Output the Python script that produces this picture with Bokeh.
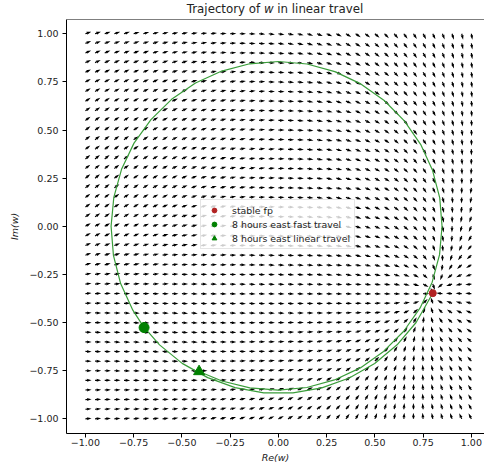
import numpy as np
from bokeh.plotting import figure
from bokeh.models import Div, FixedTicker, Legend, LegendItem, Span
from bokeh.layouts import column
from bokeh.embed import file_html
from bokeh.resources import INLINE

# ---- data -------------------------------------------------------------
grid_x = np.linspace(-1.0, 1.0, 41)          # quiver grid (Re w)
grid_y = np.linspace(-1.0, 1.0, 41)          # quiver grid (Im w)

# vector-field model dw/dt = c + a1 w + a2 w^2 - nu |w|^2 w  (parameters fitted to the arrows)
forcing_angle = -0.0262
lin_coef = (0.2400, -0.5947)
quad_coef = (-0.8267, -0.1510)
cubic_damp = 0.7758

# stable fixed point and the two travel markers
fp_x, fp_y = [0.80], [-0.347]
fast_x, fast_y = [-0.696], [-0.526]
lin_x, lin_y = [-0.411], [-0.754]

# trajectory of w (polar angle in degrees, radius)
traj_angle = [-118.6, -110, -100, -90, -80, -70, -60, -50, -40, -30, -20, -10, 0, 10, 20, 30, 40, 50, 60,
              70, 80, 90, 100, 110, 120, 130, 140, 150, 160, 170, 180, 190, 200, 210, 216.6, 225, 235,
              245, 255, 265, 275, 285, 295, 305, 315, 325, 336.5]
traj_radius = [0.859, 0.855, 0.852, 0.851, 0.850, 0.849, 0.849, 0.848, 0.848, 0.848, 0.848, 0.848, 0.848,
               0.849, 0.850, 0.851, 0.852, 0.853, 0.854, 0.855, 0.856, 0.856, 0.857, 0.858, 0.859, 0.861,
               0.862, 0.864, 0.865, 0.866, 0.867, 0.868, 0.870, 0.871, 0.872, 0.871, 0.869, 0.867, 0.867,
               0.868, 0.868, 0.869, 0.869, 0.870, 0.870, 0.871, 0.872]

x_ticks = [-1.0, -0.75, -0.5, -0.25, 0.0, 0.25, 0.5, 0.75, 1.0]
y_ticks = [-1.0, -0.75, -0.5, -0.25, 0.0, 0.25, 0.5, 0.75, 1.0]
tick_labels = ["\u22121.00", "\u22120.75", "\u22120.50", "\u22120.25", "0.00", "0.25", "0.50", "0.75", "1.00"]

# ---- figure --------------------------------------------------------------
X0, X1 = -1.098, 1.068
Y0, Y1 = -1.076, 1.074
FW, FH = 418, 414
FONT = "DejaVu Sans"
TXT = "#222222"

p = figure(frame_width=FW, frame_height=FH, x_range=(X0, X1), y_range=(Y0, Y1),
           output_backend="svg", toolbar_location=None,
           min_border_left=66, min_border_right=0, min_border_top=1, min_border_bottom=4)
p.grid.visible = False
p.outline_line_color = None
p.background_fill_color = "white"

def field(w):
    return (np.exp(1j * forcing_angle) + complex(*lin_coef) * w + complex(*quad_coef) * w ** 2
            - cubic_damp * np.abs(w) ** 2 * w)

sx = FW / (X1 - X0)
sy = FH / (Y1 - Y0)
GX, GY = np.meshgrid(grid_x, grid_y)
W = (GX + 1j * GY).ravel()
V = field(W)
ang = np.angle(V)
L = 6.2
shape = np.array([[0, 0.6], [L - 4.3, 0.6], [L - 4.8, 1.5], [L, 0], [L - 4.8, -1.5],
                  [L - 4.3, -0.6], [0, -0.6]])
xs, ys = [], []
for w0, a in zip(W, ang):
    c, s = np.cos(a), np.sin(a)
    px = shape[:, 0] * c - shape[:, 1] * s
    py = shape[:, 0] * s + shape[:, 1] * c
    xs.append(list(w0.real + px / sx))
    ys.append(list(w0.imag + py / sy))
p.patches(xs=xs, ys=ys, fill_color="black", line_color=None)

ta = np.deg2rad(np.array(traj_angle))
tr = np.array(traj_radius)
p.line(tr * np.cos(ta), tr * np.sin(ta), line_color="#3a9d3a", line_width=1.2)

r_fp = p.scatter(fp_x, fp_y, marker="circle", size=7, fill_color="#b22222", line_color="#b22222")
r_fast = p.scatter(fast_x, fast_y, marker="circle", size=10, fill_color="green", line_color="green")
r_lin = p.scatter(lin_x, lin_y, marker="triangle", size=11, fill_color="green", line_color="green")

p.add_layout(Span(location=Y1, dimension="width", line_color="black", line_width=1))

for ax, ticks in ((p.xaxis[0], x_ticks), (p.yaxis[0], y_ticks)):
    ax.ticker = FixedTicker(ticks=ticks)
    ax.major_label_overrides = {t: lab for t, lab in zip(ticks, tick_labels)}
    ax.minor_tick_line_color = None
    ax.major_tick_in = 0
    ax.major_tick_out = 4
    ax.major_label_text_font = FONT
    ax.major_label_text_font_size = "9.5px"
    ax.major_label_text_color = TXT
    ax.axis_line_color = "black"
    ax.major_tick_line_color = "black"
    ax.axis_label_text_font = FONT
    ax.axis_label_text_font_size = "9.5px"
    ax.axis_label_text_font_style = "italic"
    ax.axis_label_text_color = TXT
p.xaxis.major_label_standoff = 1
p.xaxis.axis_label_standoff = 3
p.yaxis.major_label_standoff = 4
p.yaxis.axis_label_standoff = 6
p.xaxis.axis_label = "Re(w)"
p.yaxis.axis_label = "Im(w)"

legend = Legend(items=[LegendItem(label="stable fp", renderers=[r_fp]),
                       LegendItem(label="8 hours east fast travel", renderers=[r_fast]),
                       LegendItem(label="8 hours east linear travel", renderers=[r_lin])],
                location=(134, 184), label_text_font=FONT, label_text_font_size="9.4px",
                label_text_color=TXT, glyph_width=18, glyph_height=12, label_height=12,
                spacing=2, padding=4, margin=0, label_standoff=9,
                border_line_color="#cccccc", border_line_width=1,
                background_fill_color="white", background_fill_alpha=0.8)
p.add_layout(legend)

title = Div(text="Trajectory of <i>w</i> in linear travel", width=FW, height=18, margin=(0, 0, 0, 66),
            styles={"font-family": FONT, "font-size": "11.8px", "text-align": "center",
                    "line-height": "18px", "color": TXT})

lay = column(title, p, spacing=0)
open("out.html", "w").write(file_html(lay, INLINE))
